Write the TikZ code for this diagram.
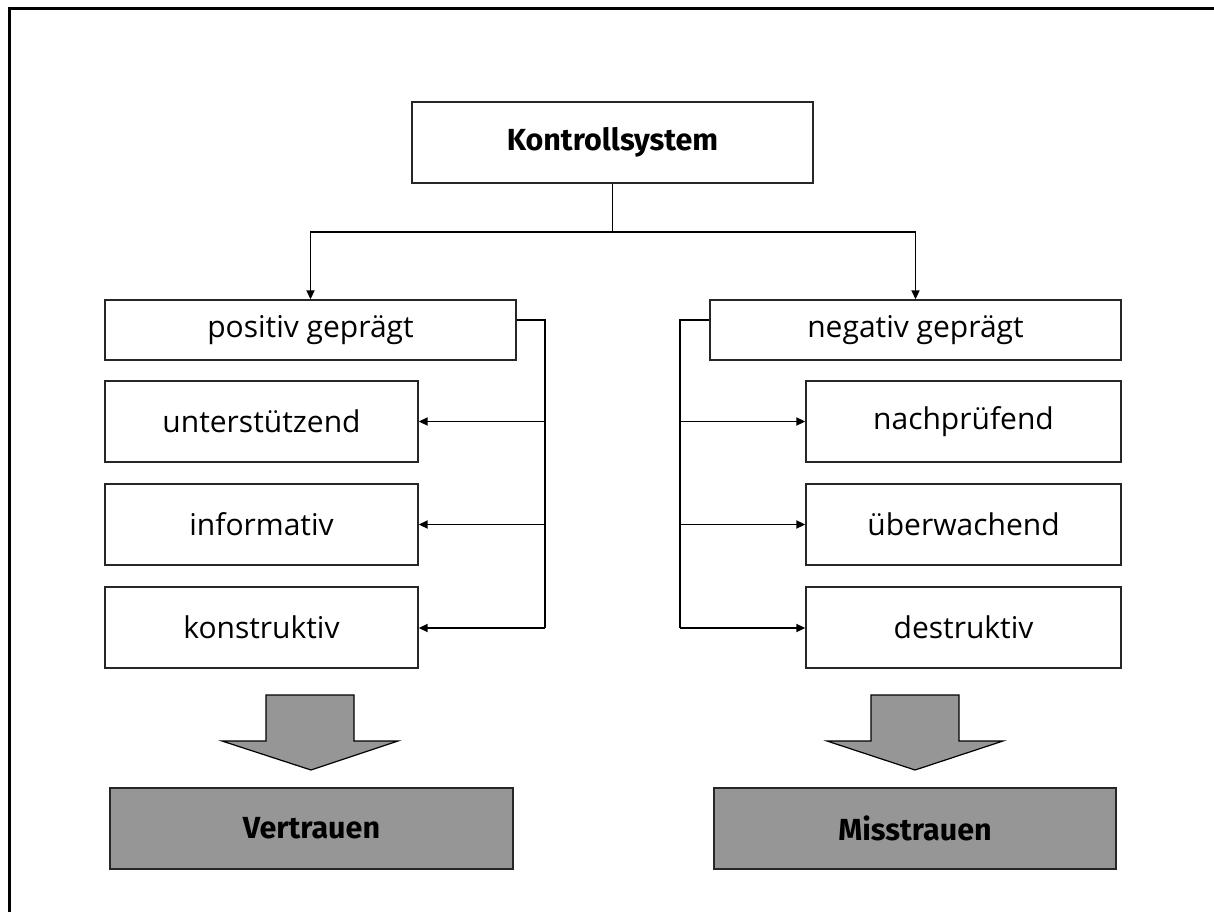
\documentclass[tikz,border=0pt]{standalone}
\usepackage{fontspec}
\setmainfont{Open Sans}
\newfontfamily\headfont{Fira Sans}
\usetikzlibrary{arrows.meta}
\begin{document}
\begin{tikzpicture}[x=1pt,y=-1pt,
  box/.style={draw=black!85,line width=1.4pt,fill=white,inner sep=0pt,
    font=\fontsize{30}{36}\selectfont},
  result/.style={draw=black!85,line width=1.6pt,fill=black!41,inner sep=0pt,
    font=\headfont\bfseries\fontsize{30.5}{36}\selectfont},
  link/.style={line width=1.9pt},
  arr/.style={link,-{Triangle[length=9pt,width=8pt]}},
  bigarrow/.style={draw=black,line width=1.2pt,fill=black!41,line join=miter}]
\useasboundingbox (0,0) rectangle (1214,912);
% open frame: top and left edges only
\draw[line width=3pt] (9,912) -- (9,9) -- (1214,9);

% top level
\node[box,minimum width=401pt,minimum height=81pt,
  font=\headfont\bfseries\fontsize{30.5}{36}\selectfont] (ks) at (612.5,142.5) {Kontrollsystem};

% the two branches
\node[box,minimum width=411pt,minimum height=60pt] (pos) at (310.5,330) {positiv geprägt};
\node[box,minimum width=411pt,minimum height=60pt] (neg) at (915.5,330) {negativ geprägt};

% left column
\node[box,minimum width=313pt,minimum height=81pt] (uns) at (261.5,421.5) {unterstützend};
\node[box,minimum width=313pt,minimum height=81pt] (inf) at (261.5,524.5) {informativ};
\node[box,minimum width=313pt,minimum height=81pt] (kon) at (261.5,627.5) {konstruktiv};

% right column
\node[box,minimum width=315pt,minimum height=81pt] (nach) at (963.5,421.5) {nachprüfend};
\node[box,minimum width=315pt,minimum height=81pt] (ueb) at (963.5,524.5) {überwachend};
\node[box,minimum width=315pt,minimum height=81pt] (des) at (963.5,627.5) {destruktiv};

% outcomes
\node[result,minimum width=403pt,minimum height=81pt] (ver) at (311.5,828.5) {Vertrauen};
\node[result,minimum width=402pt,minimum height=81pt] (mis) at (915,828.5) {Misstrauen};

% split from the top box
\draw[link] (ks.south) -- ++(0,48) coordinate (j);
\draw[arr] (j) -| (pos.north);
\draw[arr] (j) -| (neg.north);

% left bracket
\coordinate (lb) at (545,320);
\coordinate (lbe) at (545,628);
\draw[link] (pos.east |- lb) -- (lb) -- (lbe);
\draw[arr] (lb |- uns.east) -- (uns.east);
\draw[arr] (lb |- inf.east) -- (inf.east);
\draw[arr] (lbe) -- (kon.east |- lbe);

% right bracket
\coordinate (rb) at (680,320);
\coordinate (rbe) at (680,628);
\draw[link] (neg.west |- rb) -- (rb) -- (rbe);
\draw[arr] (rb |- nach.west) -- (nach.west);
\draw[arr] (rb |- ueb.west) -- (ueb.west);
\draw[arr] (rbe) -- (des.west |- rbe);

% block arrows towards the outcomes
\draw[bigarrow] (266,695) -- (354,695) -- (354,741) -- (398,741) -- (311,770)
  -- (222,741) -- (266,741) -- cycle;
\draw[bigarrow] (871,695) -- (959,695) -- (959,741) -- (1003,741) -- (915,770)
  -- (827,741) -- (871,741) -- cycle;
\end{tikzpicture}
\end{document}
